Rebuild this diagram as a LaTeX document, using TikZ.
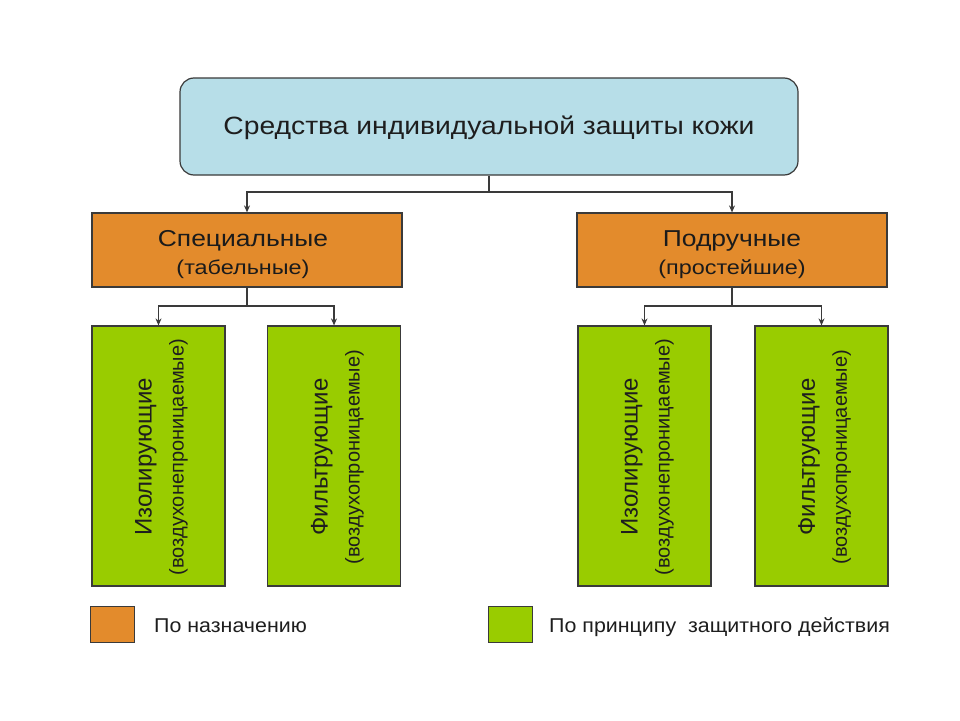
\documentclass[tikz,border=0pt]{standalone}
\usepackage{fontspec}
\setmainfont{Liberation Sans}
\newfontfamily\fTitle[FakeStretch=1.13]{Liberation Sans}
\newfontfamily\fOrMain[FakeStretch=1.15]{Liberation Sans}
\newfontfamily\fOrSub[FakeStretch=1.17]{Liberation Sans}
\newfontfamily\fLeg[FakeStretch=1.07]{Liberation Sans}
\usetikzlibrary{arrows.meta}
\definecolor{topblue}{HTML}{B7DEE8}
\definecolor{boxorange}{HTML}{E38B2C}
\definecolor{boxgreen}{HTML}{99CC00}
\definecolor{edge}{HTML}{3A3A3A}
\definecolor{txt}{HTML}{1E1E1E}
\tikzset{
  topbox/.style={draw=edge, line width=1.2pt, fill=topblue, rounded corners=14pt, minimum width=618pt, minimum height=97pt, inner sep=0pt},
  orbox/.style={draw=edge, line width=1.2pt, fill=boxorange, minimum width=310pt, minimum height=74pt, inner sep=0pt},
  grbox/.style={draw=edge, line width=1.2pt, fill=boxgreen, minimum width=133pt, minimum height=260pt, inner sep=0pt},
  titletext/.style={inner sep=0pt, text=txt, font=\fTitle\fontsize{25}{30}\selectfont},
  ortext/.style={inner sep=0pt, align=center, text=txt!90!black, font=\fOrMain\fontsize{23}{28}\selectfont},
  grtext/.style={inner sep=0pt, align=center, rotate=90, text=txt, font=\fontsize{24}{32}\selectfont},
  legbox/.style={draw=edge, line width=1pt, minimum width=44pt, minimum height=36pt, inner sep=0pt},
  legtext/.style={anchor=base west, inner sep=0pt, text=txt, font=\fLeg\fontsize{20}{24}\selectfont},
  conn/.style={draw=edge, line width=1.1pt},
  arr/.style={conn, -{Stealth[length=7pt,width=6pt]}},
}
\newcommand{\orsubline}[1]{{\fOrSub\fontsize{20}{28}\selectfont #1}}
\newcommand{\grsubline}[1]{{\fontsize{20}{32}\selectfont #1}}
\begin{document}
\begin{tikzpicture}[x=1pt,y=-1pt]
\useasboundingbox[fill=white] (0,0) rectangle (960,720);
% boxes
\node[topbox] (top) at (489,126.5) {};
\node[orbox] (spec) at (247,250) {};
\node[orbox] (podr) at (732,250) {};
\node[grbox] (g1) at (158.5,456) {};
\node[grbox] (g2) at (334,456) {};
\node[grbox] (g3) at (644.5,456) {};
\node[grbox] (g4) at (821.5,456) {};
% texts
\node[titletext] (toptext) at (489,128) {Средства индивидуальной защиты кожи};
\node[ortext] (spectext) at (243,255) {Специальные\\\orsubline{(табельные)}};
\node[ortext] (podrtext) at (732,255) {Подручные\\\orsubline{(простейшие)}};
\node[grtext] (g1text) at (161.5,457) {Изолирующие\\\grsubline{(воздухонепроницаемые)}};
\node[grtext] (g2text) at (337.5,457) {Фильтрующие\\\grsubline{(воздухопроницаемые)}};
\node[grtext] (g3text) at (647.5,457) {Изолирующие\\\grsubline{(воздухонепроницаемые)}};
\node[grtext] (g4text) at (824.5,457) {Фильтрующие\\\grsubline{(воздухопроницаемые)}};
% connectors
\coordinate (j0) at (489,192);
\coordinate (j1) at (247,306);
\coordinate (j2) at (732,306);
\draw[conn] (top.south) -- (j0);
\draw[arr] (j0) -| (spec.north);
\draw[arr] (j0) -| (podr.north);
\draw[conn] (spec.south) -- (j1);
\draw[arr] (j1) -| (g1.north);
\draw[arr] (j1) -| (g2.north);
\draw[conn] (podr.south) -- (j2);
\draw[arr] (j2) -| (g3.north);
\draw[arr] (j2) -| (g4.north);
% legend
\node[legbox, fill=boxorange] (l1) at (112.5,624) {};
\node[legtext] (t1) at (154,632) {По назначению};
\node[legbox, fill=boxgreen] (l2) at (510.5,624) {};
\node[legtext] (t2) at (549,632) {По принципу\ \ защитного действия};
\end{tikzpicture}
\end{document}
